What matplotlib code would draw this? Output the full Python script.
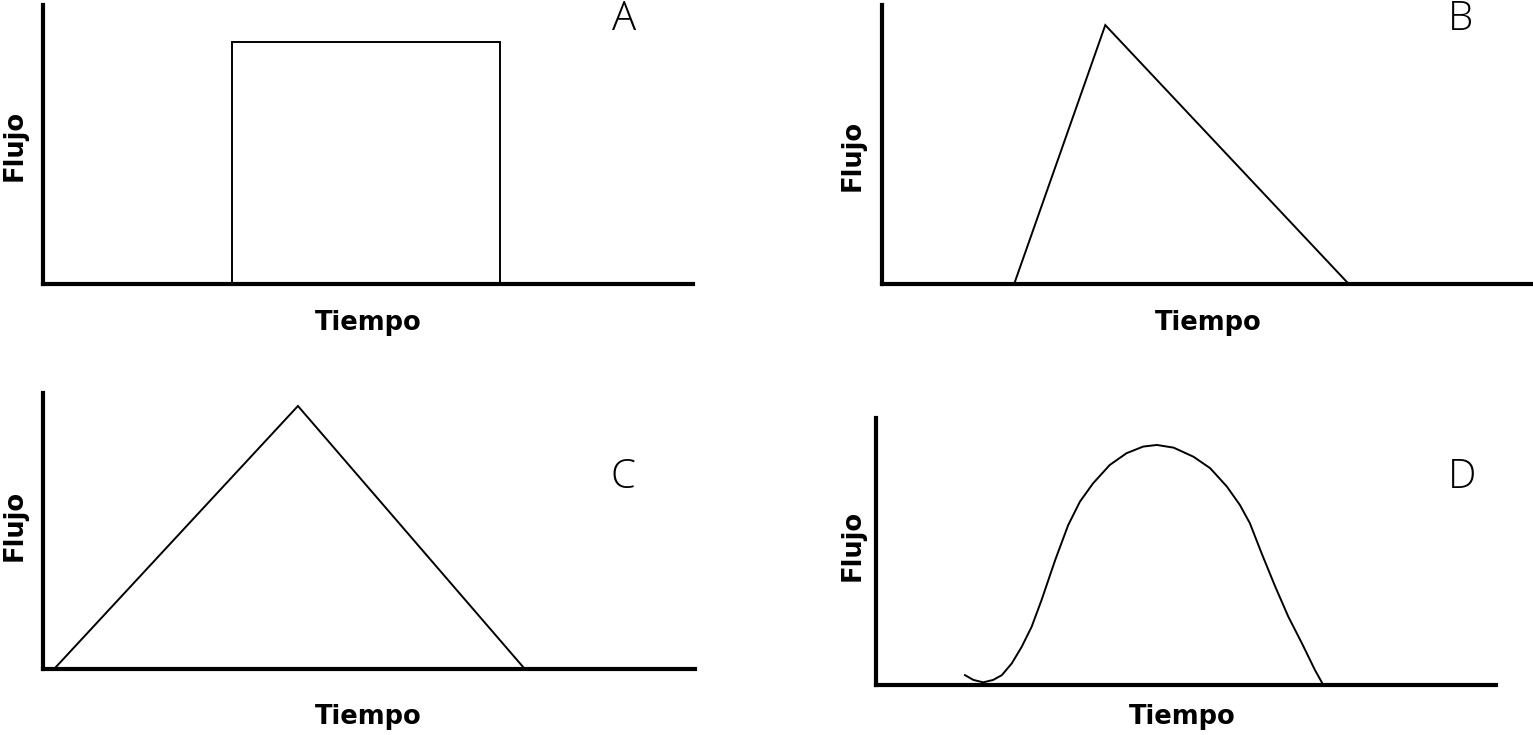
import matplotlib
matplotlib.use("Agg")
import matplotlib.pyplot as plt

# ---- data (time and flow in 0-100 relative units) ----
a_time = [0, 29, 29, 70.3, 70.3, 100]
a_flow = [0, 0, 86.7, 86.7, 0, 0]

b_time = [20.3, 34.3, 71.7]
b_flow = [0, 92.8, 0]

c_time = [1.7, 39.1, 73.9]
c_flow = [0, 95.3, 0]

d_time = [14.35, 15.7, 17.3, 18.9, 20.3, 21.9, 23.5, 25.1, 26.7, 28.9, 31.0,
          32.9, 35.0, 37.7, 40.4, 43.1, 45.3, 48.0, 51.2, 53.9, 56.6, 58.7,
          60.3, 62.2, 64.4, 66.5, 68.7, 70.8, 72.0]
d_flow = [3.7, 1.9, 1.0, 1.9, 3.7, 8.1, 14.3, 21.8, 31.8, 46.8, 59.9,
          68.7, 75.5, 82.4, 86.8, 89.3, 89.9, 88.9, 85.5, 81.2, 74.3, 67.4,
          60.6, 49.3, 36.8, 25.6, 15.6, 5.6, 0.6]

panel_letters = ["A", "B", "C", "D"]
x_label = "Tiempo"
y_label = "Flujo"

W, H = 1533, 735
fig = plt.figure(figsize=(W / 100, H / 100), dpi=100)


def px_axes(left, top, right, bottom):
    return fig.add_axes([left / W, 1 - bottom / H, (right - left) / W, (bottom - top) / H])


def style(ax):
    ax.set_xlim(0, 100)
    ax.set_ylim(0, 100)
    for s in ["top", "right"]:
        ax.spines[s].set_visible(False)
    for s in ["left", "bottom"]:
        ax.spines[s].set_linewidth(3.0)
        ax.spines[s].set_color("black")
    ax.set_xticks([])
    ax.set_yticks([])
    ax.patch.set_alpha(0)


axA = px_axes(43, 5, 693, 284)
axB = px_axes(882, 5, 1533, 284)
axC = px_axes(43, 393, 695, 669)
axD = px_axes(876, 418, 1496, 685)

lw = 1.4
axA.plot(a_time, a_flow, color="black", lw=lw, solid_joinstyle="miter", clip_on=False)
axB.plot(b_time, b_flow, color="black", lw=lw, solid_joinstyle="miter", clip_on=False)
axC.plot(c_time, c_flow, color="black", lw=lw, solid_joinstyle="miter", clip_on=False)
axD.plot(d_time, d_flow, color="black", lw=lw, solid_joinstyle="round", clip_on=False)

for ax in (axA, axB, axC, axD):
    style(ax)


def ftext(x, y, s, **kw):
    fig.text(x / W, 1 - y / H, s, ha="center", va="center", **kw)


lab_kw = dict(fontsize=18.5, fontweight="bold", family="DejaVu Sans", color="black")
for (x, y) in [(368, 323), (1208, 323), (368, 717), (1182, 717)]:
    ftext(x, y, x_label, **lab_kw)
for (x, y) in [(15, 145), (853, 155), (15, 525), (853, 545)]:
    ftext(x, y, y_label, rotation=90, **lab_kw)

let_kw = dict(fontsize=29, fontweight="light", family="Open Sans", color="black")
for s, (x, y) in zip(panel_letters, [(624, 19), (1460, 19), (623, 477), (1462, 477)]):
    ftext(x, y, s, **let_kw)

fig.savefig("out.png", dpi=100, facecolor="white")
